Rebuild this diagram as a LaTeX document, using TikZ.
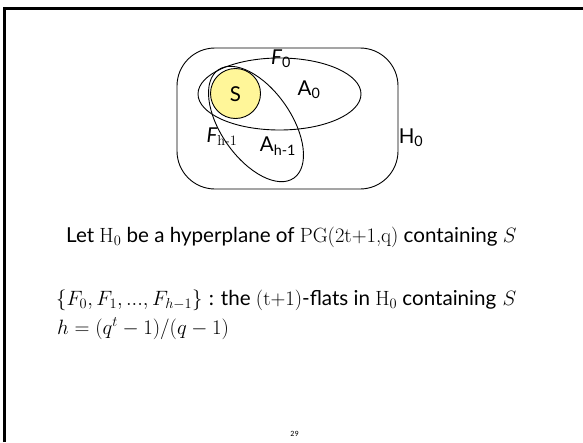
\documentclass[tikz,border=0pt]{standalone}
\usepackage{fontspec}
\setsansfont{Lato}
\newfontfamily\numfont{Carlito}
\definecolor{sfill}{RGB}{255,246,153}
\begin{document}
\begin{tikzpicture}[x=1pt,y=-1pt,
  shape line/.style={draw=black,line width=0.9pt},
  lbl/.style={inner sep=0pt,font=\sffamily\fontsize{20.5}{24}\selectfont},
  txt/.style={inner sep=0pt,anchor=base west,font=\fontsize{20.6}{24}\selectfont}]
\useasboundingbox (0,0) rectangle (583,442);
% slide frame
\draw[line width=2.2pt] (4.5,442) -- (4.5,8.5) -- (583,8.5);
% H0 rounded rectangle
\draw[shape line,rounded corners=38pt] (177,48) rectangle (398,189);
% A0 ellipse
\draw[shape line] (279.5,94) ellipse[x radius=81.5pt,y radius=36pt];
% A_{h-1} ellipse
\draw[shape line] (256,124) ellipse[x radius=66pt,y radius=35pt,rotate=-55];
% S circle
\draw[shape line,fill=sfill] (235.5,93.5) circle[radius=25pt];
% labels
\node[lbl] (s) at (235.5,94) {S};
\node[lbl] (f0) at (281,59) {\itshape F\textsubscript{\upshape 0}};
\node[lbl] (a0) at (309,90) {A\textsubscript{0}};
\node[lbl] (fh) at (222,137) {\itshape F\textsubscript{\upshape\rmfamily h-1}};
\node[lbl] (ah) at (278,146) {A\textsubscript{h-1}};
\node[lbl] (h0) at (411,138) {H\textsubscript{0}};
% text lines
\node[txt] (l1) at (66,242) {\sffamily Let {\rmfamily H\textsubscript{0}} be a hyperplane of {\rmfamily PG(2t+1,q)} containing $S$};
\node[txt] (l2) at (56,305) {$\{F_0,F_1,...,F_{h-1}\}$ {\sffamily : the {\rmfamily(t+1)}-flats in {\rmfamily H\textsubscript{0}} containing} $S$};
\node[txt] (l3) at (57,334) {$h=(q^t-1)/(q-1)$};
\node[inner sep=0pt,font=\numfont\fontsize{8}{9}\selectfont] (pg) at (294.5,433.5) {29};
\end{tikzpicture}
\end{document}
